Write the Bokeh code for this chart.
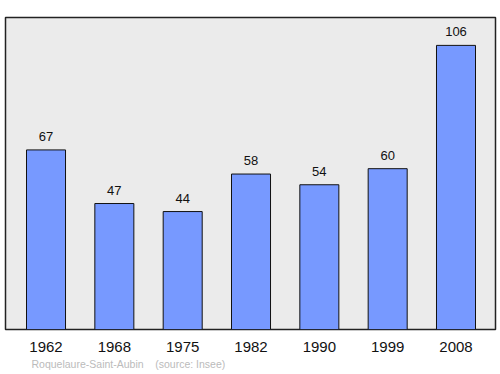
from bokeh.plotting import figure
from bokeh.models import Range1d, FixedTicker, Title, ColumnDataSource
from bokeh.core.properties import value
from bokeh.embed import file_html
from bokeh.resources import INLINE

years = ["1962", "1968", "1975", "1982", "1990", "1999", "2008"]
population = [67, 47, 44, 58, 54, 60, 106]
commune = "Roquelaure-Saint-Aubin"
source_note = "(source: Insee)"

xs = list(range(len(years)))
src = ColumnDataSource(dict(x=xs, top=population, lab=[str(v) for v in population]))

p = figure(width=500, height=374, output_backend="svg", toolbar_location=None,
           x_range=Range1d(-0.593, 6.578), y_range=Range1d(0, 116.4),
           min_border_left=5, min_border_right=5, min_border_top=17, min_border_bottom=45)
p.background_fill_color = "#ebebeb"
p.border_fill_color = "white"
p.outline_line_color = "#222222"
p.outline_line_width = 1.5
p.grid.visible = False
p.yaxis.visible = False

p.vbar(x="x", top="top", bottom=0, width=0.571, source=src,
       fill_color="#7799ff", line_color="#111111", line_width=1)
p.text(x="x", y="top", text="lab", source=src, text_align="center", text_baseline="bottom",
       y_offset=-9, text_font=value("Liberation Sans"), text_font_size="13px", text_color="#111111")

ax = p.xaxis[0]
ax.ticker = FixedTicker(ticks=xs)
ax.major_label_overrides = {i: y for i, y in enumerate(years)}
ax.axis_line_color = None
ax.major_tick_line_color = None
ax.minor_tick_line_color = None
ax.major_label_text_font = "Liberation Sans"
ax.major_label_text_font_size = "15px"
ax.major_label_text_color = "#111111"
ax.major_label_standoff = 6

note = Title(text=commune + "\u00a0" * 4 + source_note, align="left", offset=26, standoff=3,
             text_font="Liberation Sans", text_font_size="10.5px", text_font_style="normal",
             text_color="#bbbbbb")
p.add_layout(note, "below")

open("out.html", "w").write(file_html(p, INLINE))
